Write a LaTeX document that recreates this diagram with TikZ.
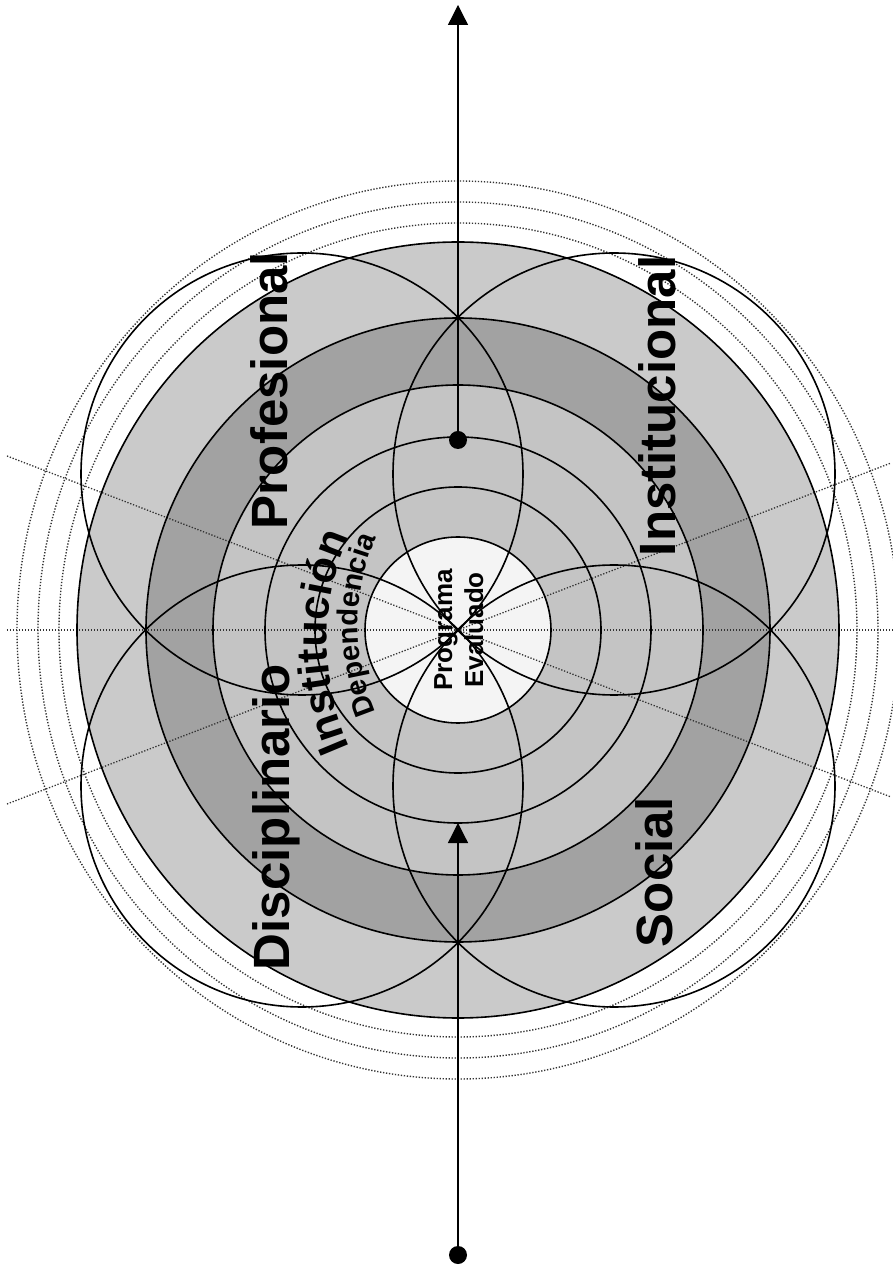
\documentclass[tikz,border=0pt]{standalone}
\usepackage{fontspec}
\setmainfont{Liberation Sans}
\usetikzlibrary{arrows.meta,decorations.text}
\definecolor{lightg}{HTML}{CACACA}
\definecolor{darkg}{HTML}{A2A2A2}
\definecolor{midg}{HTML}{C4C4C4}
\definecolor{centerw}{HTML}{F4F4F4}
\newcommand\bigfont{\fontsize{51}{51}\selectfont\bfseries}
\newcommand\instfont{\fontsize{43}{43}\selectfont\bfseries}
\newcommand\depfont{\fontsize{29}{29}\selectfont\bfseries}
\newcommand\progfont{\fontsize{26}{26}\selectfont\bfseries}
\begin{document}
\begin{tikzpicture}[x=1pt,y=1pt,
  ring/.style={line width=1.6pt,draw=black},
  petal/.style={line width=1.6pt,draw=black},
  dotring/.style={line width=1.4pt,draw=black!80,dash pattern=on 1.3pt off 1.7pt},
  dotline/.style={line width=1.3pt,draw=black!80,dash pattern=on 1.3pt off 1.7pt},
  dotn/.style={circle,fill=black,inner sep=0pt,minimum size=18pt},
  axis/.style={line width=1.3pt,draw=black,-{Triangle[width=20pt,length=20pt]}},
  bigtext/.style={font=\bigfont,rotate=90,anchor=base,inner sep=0pt},
  progtext/.style={font=\progfont,rotate=90,anchor=base,inner sep=0pt}]
\useasboundingbox (-458,-635) rectangle (435,630);
\fill[white] (-458,-635) rectangle (435,630);
% fills
\fill[lightg] (0,0) ellipse [x radius=381, y radius=388];
\fill[darkg] (0,0) circle (312);
\fill[midg] (0,0) circle (245);
\fill[centerw] (0,0) circle (93);
% dotted radial lines
\draw[dotline] (-451,0) -- (435,0);
\draw[dotline] (-451,-174) -- (433,167);
\draw[dotline] (-451,174) -- (433,-167);
% dotted outer rings
\draw[dotring] (0,0) ellipse [x radius=399, y radius=407];
\draw[dotring] (0,0) ellipse [x radius=420, y radius=428];
\draw[dotring] (0,0) ellipse [x radius=441, y radius=449];
% concentric rings
\draw[ring] (0,0) ellipse [x radius=381, y radius=388];
\draw[ring] (0,0) circle (312);
\draw[ring] (0,0) circle (245);
\draw[ring] (0,0) circle (193);
\draw[ring] (0,0) circle (143);
\draw[ring] (0,0) circle (93);
% four petal circles
\draw[petal] (-156,156) circle (221);
\draw[petal] (156,156) circle (221);
\draw[petal] (-156,-156) circle (221);
\draw[petal] (156,-156) circle (221);
% labels
\node[bigtext] (prof) at (-170,239) {Profesional};
\node[bigtext] (inst) at (217,224) {Institucional};
\node[bigtext] (disc) at (-168,-187) {Disciplinario};
\node[bigtext] (soc) at (214,-242) {Social};
\node[progtext] (prog) at (-6,0) {Programa};
\node[progtext] (eval) at (25,0) {Evaluado};
\path[decorate,decoration={text along path,text align=center,
  text={|\instfont|Instituci{ó}n}}]
  (-96.0,-142.0) arc[start angle=210, end angle=150, radius=260];
\path[decorate,decoration={text along path,text align=center,
  text={|\depfont|Dependencia}}]
  (-59.9,-122.3) arc[start angle=215, end angle=145, radius=222];
% axis arrows
\coordinate (topTip) at (0,625);
\coordinate (botTip) at (0,-193);
\node[dotn] (topDot) at (0,190) {};
\node[dotn] (botDot) at (0,-625) {};
\draw[axis] (topDot.center) -- (topTip);
\draw[axis] (botDot.center) -- (botTip);
\end{tikzpicture}
\end{document}
